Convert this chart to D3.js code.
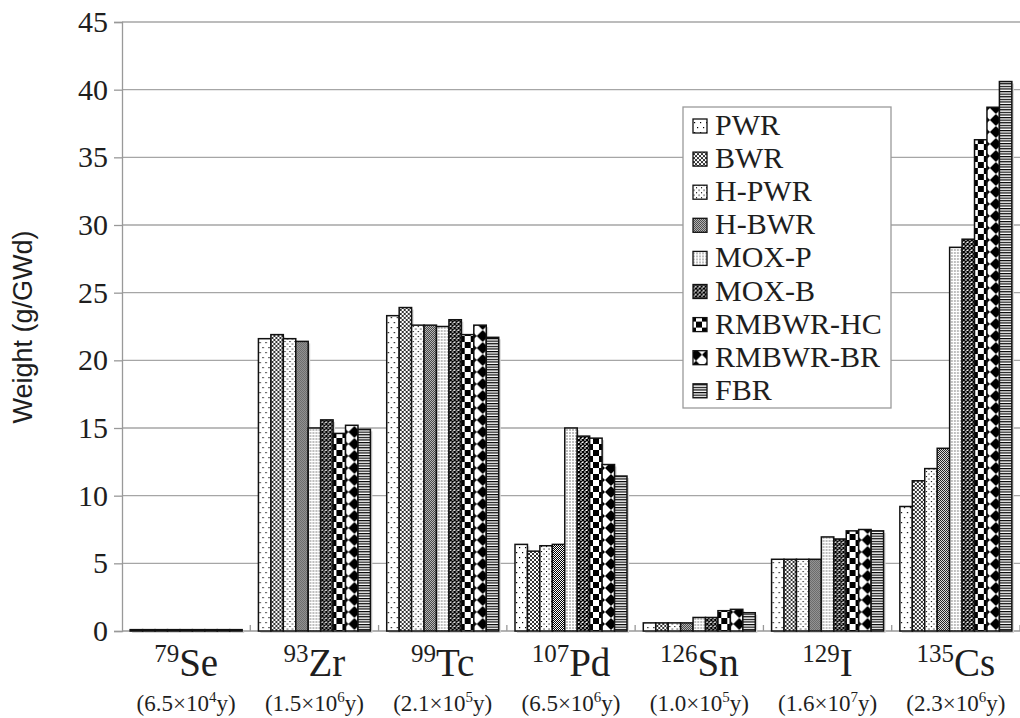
<!DOCTYPE html>
<html>
<head>
<meta charset="utf-8">
<script src="https://cdn.jsdelivr.net/npm/d3@7"></script>
<style>
  body { margin: 0; background: #fff; }
  svg { display: block; }
  .serif { font-family: "Liberation Serif", "Times New Roman", serif; }
</style>
</head>
<body>
<div id="chart"></div>
<script>
// isotopes on the x axis
const isotopes = ["Se", "Zr", "Tc", "Pd", "Sn", "I", "Cs"];
const massNumbers = ["79", "93", "99", "107", "126", "129", "135"];
const halfLifeMant = ["6.5", "1.5", "2.1", "6.5", "1.0", "1.6", "2.3"];
const halfLifeExp = ["4", "6", "5", "6", "5", "7", "6"];

// reactor types (legend order)
const reactors = ["PWR", "BWR", "H-PWR", "H-BWR", "MOX-P", "MOX-B", "RMBWR-HC", "RMBWR-BR", "FBR"];

// weight (g/GWd) per isotope, one array per reactor type
const PWR    = [0.1, 21.6, 23.3, 6.4, 0.6, 5.3, 9.2];
const BWR    = [0.1, 21.9, 23.9, 5.9, 0.6, 5.3, 11.1];
const H_PWR  = [0.1, 21.6, 22.6, 6.3, 0.6, 5.3, 12.0];
const H_BWR  = [0.1, 21.4, 22.6, 6.4, 0.6, 5.3, 13.5];
const MOX_P  = [0.1, 15.0, 22.5, 15.0, 1.0, 6.95, 28.35];
const MOX_B  = [0.1, 15.6, 23.0, 14.4, 1.0, 6.8, 28.95];
const RM_HC  = [0.1, 14.6, 21.9, 14.25, 1.5, 7.4, 36.3];
const RM_BR  = [0.1, 15.2, 22.6, 12.3, 1.6, 7.5, 38.7];
const FBR    = [0.1, 14.9, 21.7, 11.45, 1.35, 7.4, 40.6];
const seriesValues = [PWR, BWR, H_PWR, H_BWR, MOX_P, MOX_B, RM_HC, RM_BR, FBR];

const yTicks = [0, 5, 10, 15, 20, 25, 30, 35, 40, 45];

const width = 1020, height = 718;
const plotLeft = 122, plotRight = 1020, plotTop = 22, plotBottom = 631;

const svg = d3.select("#chart").append("svg")
    .attr("width", width)
    .attr("height", height);

// fill patterns
const defs = svg.append("defs");
function pattern(id, w, h) {
    const p = defs.append("pattern").attr("id", id)
        .attr("patternUnits", "userSpaceOnUse")
        .attr("width", w).attr("height", h);
    p.append("rect").attr("width", w).attr("height", h).attr("fill", "#fff");
    return p;
}
let p;
p = pattern("p0", 6, 10);
p.append("rect").attr("x", 1).attr("y", 2).attr("width", 1.2).attr("height", 1.2).attr("fill", "#000");
p.append("rect").attr("x", 4).attr("y", 7).attr("width", 1.2).attr("height", 1.2).attr("fill", "#000");

p = pattern("p1", 4, 4);
p.append("path").attr("d", "M0,0L4,4M4,0L0,4").attr("stroke", "#000").attr("stroke-width", 0.8);

p = pattern("p2", 5, 5);
p.append("rect").attr("x", 1).attr("y", 1).attr("width", 1.1).attr("height", 1.1).attr("fill", "#000");
p.append("rect").attr("x", 3.5).attr("y", 3.5).attr("width", 1.1).attr("height", 1.1).attr("fill", "#000");

p = pattern("p3", 2, 2);
p.append("rect").attr("x", 0).attr("y", 0).attr("width", 1).attr("height", 1).attr("fill", "#000");
p.append("rect").attr("x", 1).attr("y", 1).attr("width", 1).attr("height", 1).attr("fill", "#000");

p = pattern("p4", 3, 3);
p.append("rect").attr("x", 0.5).attr("y", 0.5).attr("width", 1).attr("height", 1).attr("fill", "#000");

p = pattern("p5", 4, 4);
p.append("path").attr("d", "M0,0L4,4M4,0L0,4").attr("stroke", "#000").attr("stroke-width", 1.4);

p = pattern("p6", 12, 12);
p.append("rect").attr("x", 0).attr("y", 0).attr("width", 6).attr("height", 6).attr("fill", "#000");
p.append("rect").attr("x", 6).attr("y", 6).attr("width", 6).attr("height", 6).attr("fill", "#000");

p = pattern("p7", 12, 12);
p.select("rect").attr("fill", "#000");
p.append("path").attr("d", "M6,0L12,6L6,12L0,6Z").attr("fill", "#fff");

p = pattern("p8", 3, 2.6);
p.append("rect").attr("x", 0).attr("y", 0).attr("width", 3).attr("height", 1.2).attr("fill", "#000");

// scales
const x = d3.scaleBand().domain(isotopes).range([plotLeft, plotRight])
    .paddingInner(0.127).paddingOuter(0.0635);
const xs = d3.scaleBand().domain(reactors).range([0, x.bandwidth()]);
const y = d3.scaleLinear().domain([0, 45]).range([plotBottom, plotTop]);
const step = x.step();

// gridlines
svg.append("g").selectAll("line").data(yTicks.filter(d => d > 0)).enter().append("line")
    .attr("x1", plotLeft).attr("x2", plotRight)
    .attr("y1", d => y(d)).attr("y2", d => y(d))
    .attr("stroke", "#a6a6a6").attr("stroke-width", 1.3);

// y axis
const yAxis = svg.append("g")
    .attr("transform", `translate(${plotLeft},0)`)
    .call(d3.axisLeft(y).tickValues(yTicks).tickSize(8).tickPadding(6));
yAxis.attr("font-family", null).attr("font-size", null).attr("class", "serif");
yAxis.select(".domain").attr("stroke", "#999").attr("stroke-width", 1.3);
yAxis.selectAll(".tick line").attr("stroke", "#999").attr("stroke-width", 1.3);
yAxis.selectAll(".tick text")
    .style("font-size", "30px")
    .attr("fill", "#1e1e1e");

// x axis line and category ticks
svg.append("line")
    .attr("x1", plotLeft).attr("x2", plotRight)
    .attr("y1", plotBottom).attr("y2", plotBottom)
    .attr("stroke", "#999").attr("stroke-width", 1.3);
svg.append("g").selectAll("line").data(d3.range(1, 8)).enter().append("line")
    .attr("x1", i => plotLeft + i * step).attr("x2", i => plotLeft + i * step)
    .attr("y1", plotBottom).attr("y2", plotBottom - 6)
    .attr("stroke", "#999").attr("stroke-width", 1.3);

// bars
const groups = svg.append("g").selectAll("g").data(isotopes).enter().append("g")
    .attr("transform", d => `translate(${x(d)},0)`);

groups.each(function(iso, i) {
    const g = d3.select(this);
    const rows = reactors.map((r, k) => ({ r: r, k: k, v: seriesValues[k][i] }));
    // faint shadow
    g.selectAll(".shadow").data(rows).enter().append("rect")
        .attr("class", "shadow")
        .attr("x", d => xs(d.r) + 2)
        .attr("y", d => y(d.v) + 2)
        .attr("width", xs.bandwidth())
        .attr("height", d => plotBottom - y(d.v))
        .attr("fill", "#d4d4d4");
    g.selectAll(".bar").data(rows).enter().append("rect")
        .attr("class", "bar")
        .attr("x", d => xs(d.r))
        .attr("y", d => y(d.v))
        .attr("width", xs.bandwidth())
        .attr("height", d => plotBottom - y(d.v))
        .attr("fill", d => `url(#p${d.k})`)
        .attr("stroke", "#111").attr("stroke-width", 1.5);
});

// x labels
const xl = svg.append("g").attr("class", "serif")
    .selectAll("g").data(isotopes).enter().append("g")
    .attr("transform", d => `translate(${x(d) + x.bandwidth() / 2},0)`)
    .attr("fill", "#1e1e1e")
    .attr("text-anchor", "middle");

xl.append("text")
    .attr("y", 676)
    .each(function(d, i) {
        const t = d3.select(this);
        t.append("tspan").style("font-size", "25px").attr("dy", -14).text(massNumbers[i]);
        t.append("tspan").style("font-size", "39px").attr("dy", 14).text(d);
    });

xl.append("text")
    .attr("y", 711)
    .style("font-size", "23px")
    .each(function(d, i) {
        const t = d3.select(this);
        t.append("tspan").text(`(${halfLifeMant[i]}×10`);
        t.append("tspan").style("font-size", "15px").attr("dy", -9).text(halfLifeExp[i]);
        t.append("tspan").attr("dy", 9).text("y)");
    });

// y label
svg.append("text")
    .attr("transform", "translate(32,327) rotate(-90)")
    .attr("text-anchor", "middle")
    .style("font-family", "'Liberation Sans', Arial, sans-serif")
    .style("font-size", "27px")
    .attr("fill", "#1e1e1e")
    .text("Weight (g/GWd)");

// legend
const lg = svg.append("g").attr("class", "serif");
lg.append("rect")
    .attr("x", 683).attr("y", 107)
    .attr("width", 208).attr("height", 301)
    .attr("fill", "#fff").attr("stroke", "#9a9a9a").attr("stroke-width", 1.3);
const items = lg.selectAll("g").data(reactors).enter().append("g")
    .attr("transform", (d, k) => `translate(0,${135 + k * 33.1})`);
items.append("rect")
    .attr("x", 693).attr("y", -16)
    .attr("width", 14).attr("height", 14)
    .attr("fill", (d, k) => `url(#p${k})`)
    .attr("stroke", "#111").attr("stroke-width", 1.3);
items.append("text")
    .attr("x", 715).attr("y", 0)
    .style("font-size", "30px")
    .attr("fill", "#1e1e1e")
    .text(d => d);
</script>
</body>
</html>
